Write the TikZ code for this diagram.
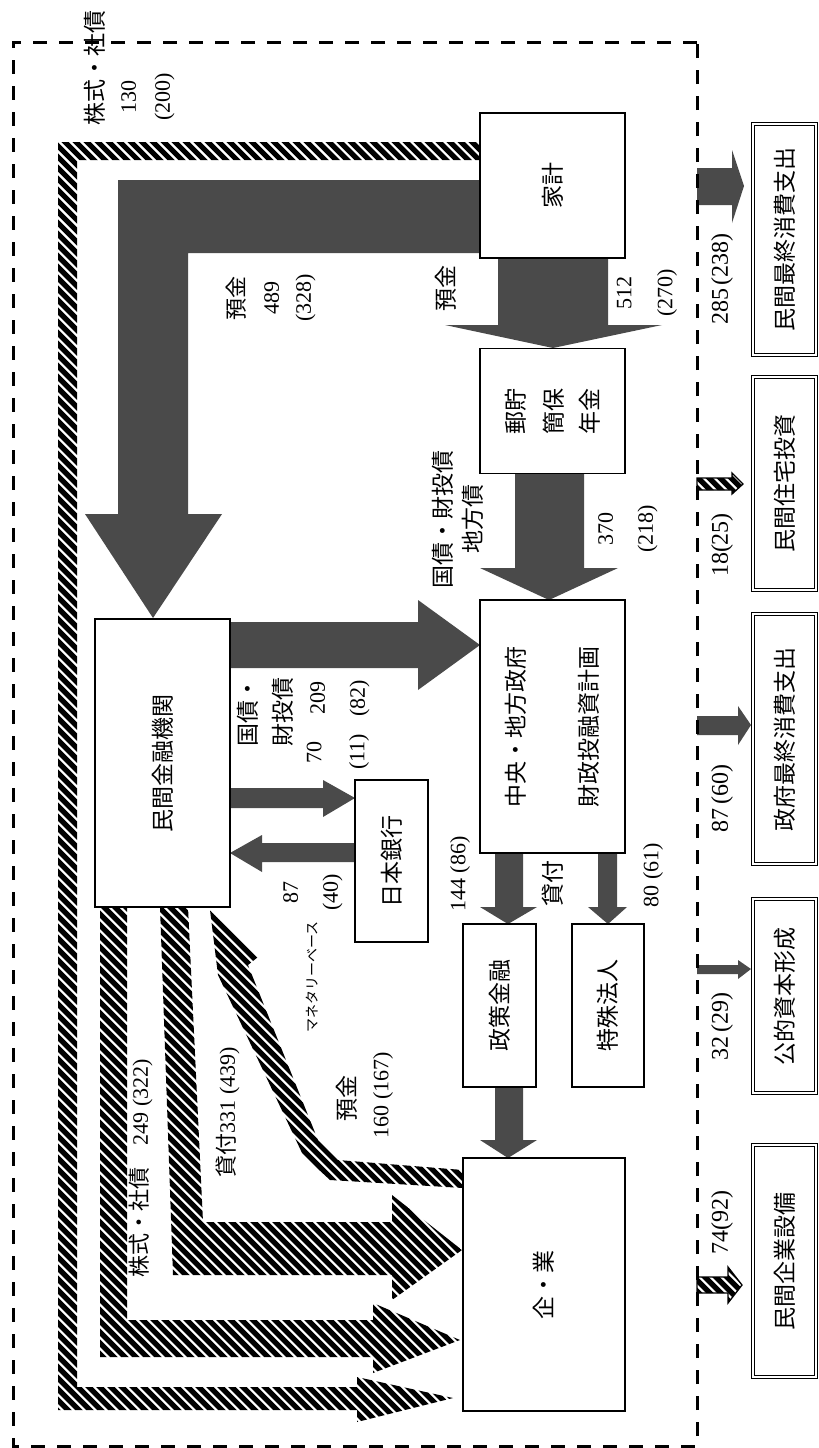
\documentclass[tikz,border=0pt]{standalone}
\usepackage{fontspec}
\setmainfont{Liberation Serif}
\newfontfamily\jp{Noto Sans CJK JP}
\usetikzlibrary{calc}
\definecolor{flowgray}{HTML}{4A4A4A}

% diagonal black stripes inside a closed path
\newcommand{\hatchfill}[1]{%
  \begin{scope}
    \clip #1;
    \foreach \k in {-1452,-1441,...,820}
      \draw[line width=5.3pt] (\k,0) -- ++(1460,1460);
  \end{scope}}
\newcommand{\hatchout}[1]{\hatchfill{#1}\draw[line width=1.3pt] #1;}

\tikzset{
  wh/.style 2 args={minimum height=#1pt, minimum width=#2pt},
  box/.style={draw, line width=1.3pt, fill=white, inner sep=0pt, rotate=90,
    align=center, font=\fontsize{23}{28}\selectfont\jp},
  sector/.style={box, double, double distance=2pt, line width=1.1pt},
  lbl/.style={rotate=90, inner sep=0pt, align=center, font=\fontsize{22}{28}\selectfont},
  jlbl/.style={lbl, font=\fontsize{23}{28}\selectfont\jp},
  outlbl/.style={lbl, font=\fontsize{24}{28}\selectfont},
  flow/.style={fill=flowgray},
}

\begin{document}
\begin{tikzpicture}[x=1pt, y=-1pt]
    \useasboundingbox (0,0) rectangle (819,1448);

    % gray flows
    \fill[flow] (480,180) -- (118,180) -- (118,514) -- (85,514) -- (153,618)
        -- (222,514) -- (188,514) -- (188,253) -- (480,253) -- cycle;
    \fill[flow] (498,258) -- (498,325) -- (445,325) -- (553,348) -- (662,325)
        -- (608,325) -- (608,258) -- cycle;
    \fill[flow] (515,474) -- (515,568) -- (480,568) -- (549,600) -- (618,568)
        -- (584,568) -- (584,474) -- cycle;
    \fill[flow] (230,622) -- (418,622) -- (418,600) -- (480,645) -- (418,690)
        -- (418,668) -- (230,668) -- cycle;
    \fill[flow] (230,788) -- (323,788) -- (323,780) -- (355,798) -- (323,817)
        -- (323,808) -- (230,808) -- cycle;
    \fill[flow] (355,843) -- (262,843) -- (262,835) -- (230,853) -- (262,872)
        -- (262,862) -- (355,862) -- cycle;
    \fill[flow] (495,853) -- (495,907) -- (480,907) -- (508,924) -- (537,907)
        -- (523,907) -- (523,853) -- cycle;
    \fill[flow] (598,853) -- (598,907) -- (588,907) -- (608,924) -- (627,907)
        -- (617,907) -- (617,853) -- cycle;
    \fill[flow] (495,1087) -- (495,1140) -- (480,1140) -- (508,1158) -- (537,1140)
        -- (523,1140) -- (523,1087) -- cycle;
    \fill[flow] (697,168) -- (732,168) -- (732,150) -- (744,186) -- (732,223)
        -- (732,205) -- (697,205) -- cycle;
    \fill[flow] (697,716) -- (738,716) -- (738,706) -- (751,725) -- (738,745)
        -- (738,735) -- (697,735) -- cycle;
    \fill[flow] (697,965) -- (738,965) -- (738,960) -- (751,969) -- (738,979)
        -- (738,974) -- (697,974) -- cycle;

    % hatched flows
    \hatchfill{(480,142) -- (58,142) -- (58,1410) -- (357,1410) -- (357,1422)
        -- (453,1398) -- (357,1377) -- (357,1387) -- (77,1387) -- (77,160)
        -- (480,160) -- cycle}
    \hatchfill{(100,907) -- (100,1357) -- (373,1357) -- (373,1373) -- (460,1340)
        -- (373,1303) -- (373,1320) -- (127,1320) -- (127,907) -- cycle}
    \hatchfill{(160,907) -- (173,1275) -- (392,1275) -- (392,1300) -- (462,1250)
        -- (392,1195) -- (392,1222) -- (203,1222) -- (188,907) -- cycle}
    \hatchfill{(210,910) -- (258,957) -- (248,965) -- (318,1140) -- (338,1160)
        -- (463,1170) -- (463,1188) -- (330,1180) -- (303,1155) -- (218,975) -- cycle}
    \hatchout{(697,478) -- (732,478) -- (732,473) -- (743,484) -- (732,494)
        -- (732,490) -- (697,490) -- cycle}
    \hatchout{(697,1277) -- (728,1277) -- (728,1267) -- (742,1285) -- (728,1303)
        -- (728,1293) -- (697,1293) -- cycle}

    % boxes
    \node[box, wh={145}{145}] (kakei) at (552.5,185.5) {家計};
    \node[box, wh={145}{125}] (yucho) at (552.5,411) {郵貯\\[10pt]簡保\\[8pt]年金};
    \node[box, wh={145}{253}] (seifu) at (552.5,726.5) {中央・地方政府\\[45pt]財政投融資計画};
    \node[box, wh={135}{288}] (minkin) at (162.5,763) {民間金融機関};
    \node[box, wh={73}{162}] (nichigin) at (391.5,861) {日本銀行};
    \node[box, wh={73}{163}] (seisaku) at (499.5,1005.5) {政策金融};
    \node[box, wh={72}{163}] (tokushu) at (608,1005.5) {特殊法人};
    \node[box, wh={162}{253}] (kigyo) at (544,1284.5) {企・業};

    \node[sector, wh={63}{231}] (shohi) at (784.5,239.5) {民間最終消費支出};
    \node[sector, wh={63}{213}] (jutaku) at (784.5,483.5) {民間住宅投資};
    \node[sector, wh={63}{250}] (seifushohi) at (784.5,739) {政府最終消費支出};
    \node[sector, wh={63}{194}] (koteki) at (784.5,996) {公的資本形成};
    \node[sector, wh={63}{232}] (setsubi) at (784.5,1261) {民間企業設備};

    % boundary
    \draw[line width=3pt, dash pattern=on 14pt off 12pt] (697,42) -- (13,42) -- (13,1446) -- (697,1446) -- cycle;

    % labels
    \node[jlbl] (kabu130) at (95,68) {株式・社債};
    \node[lbl] (v130) at (148,97) {130\\[6pt](200)};
    \node[lbl] (v489) at (271,298) {{\jp 預金}\\[6pt]489\\[4pt](328)};
    \node[jlbl] (dep512) at (446,288) {預金};
    \node[lbl] (v512) at (647,293) {512\\[13pt](270)};
    \node[jlbl] (bond370) at (458,519) {国債・財投債\\[2pt]地方債};
    \node[lbl] (v370) at (628,529) {370\\[12pt](218)};
    \node[jlbl, align=left, anchor=west] (bond209) at (265,747) {国債・\\[7pt]財投債};
    \node[lbl] (v209) at (340,698) {209\\[12pt](82)};
    \node[lbl] (v70) at (338,752) {70\\[15pt](11)};
    \node[lbl] (v87) at (313,892) {87\\[12pt](40)};
    \node[lbl, font=\fontsize{14}{16}\selectfont\jp] (mbase) at (312,977) {マネタリーベース};
    \node[lbl] (v144) at (460,874) {144 (86)};
    \node[jlbl] (loan) at (553,883) {貸付};
    \node[lbl] (v80) at (653,875) {80 (61)};
    \node[lbl] (v249) at (141,1168) {{\jp 株式・社債}\quad 249 (322)};
    \node[lbl] (v331) at (228,1112) {{\jp 貸付}331 (439)};
    \node[jlbl] (dep160) at (347,1098) {預金};
    \node[lbl] (v160) at (383,1095) {160 (167)};
    \node[outlbl] (v285) at (722,279) {285\,(238)};
    \node[outlbl] (v18) at (722,545) {18(25)};
    \node[outlbl] (v87b) at (722,798) {87\,(60)};
    \node[outlbl] (v32) at (722,1026) {32\,(29)};
    \node[outlbl] (v74) at (722,1222) {74(92)};
\end{tikzpicture}
\end{document}
